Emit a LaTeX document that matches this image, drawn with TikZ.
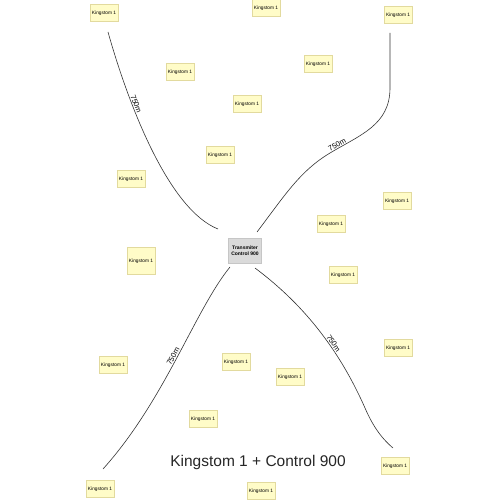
\documentclass[tikz,border=0pt]{standalone}
\usepackage{fontspec}
\setmainfont{Liberation Sans}
\definecolor{notefill}{HTML}{FFFCC8}
\definecolor{notedraw}{HTML}{E2DA9E}
\definecolor{ctrlfill}{HTML}{DADADA}
\definecolor{ctrldraw}{HTML}{C6C6C6}
\definecolor{cablegray}{HTML}{333333}
\begin{document}
\begin{tikzpicture}[x=1pt, y=-1pt,
    kbox/.style={draw=notedraw, fill=notefill, line width=0.4pt, minimum width=28pt, minimum height=17pt, inner sep=0pt, font=\fontsize{4.8}{5.5}\selectfont},
    ctrlbox/.style={draw=ctrldraw, fill=ctrlfill, line width=0.4pt, minimum width=33pt, minimum height=25pt, inner sep=0pt, align=center, font=\fontsize{5}{6}\selectfont\bfseries},
    cable/.style={draw=cablegray, line width=0.6pt},
    dist/.style={font=\fontsize{7.5}{8}\selectfont, sloped, above, inner sep=1pt}]
    \useasboundingbox (0,0) rectangle (500,500);

    % transmitter in the middle
    \node[ctrlbox] (ctrl) at (245,251) {Transmiter\\Control 900};

    % receivers
    \node[kbox] (k1) at (104,13) {Kingstom 1};
    \node[kbox] (k2) at (266,8) {Kingstom 1};
    \node[kbox] (k3) at (398,15) {Kingstom 1};
    \node[kbox] (k4) at (180,72) {Kingstom 1};
    \node[kbox] (k5) at (318,64) {Kingstom 1};
    \node[kbox] (k6) at (247,104) {Kingstom 1};
    \node[kbox] (k7) at (220,155) {Kingstom 1};
    \node[kbox] (k8) at (131,179) {Kingstom 1};
    \node[kbox] (k9) at (397,201) {Kingstom 1};
    \node[kbox] (k10) at (331,224) {Kingstom 1};
    \node[kbox, minimum height=27pt] (k11) at (141,261) {Kingstom 1};
    \node[kbox] (k12) at (343,275) {Kingstom 1};
    \node[kbox] (k13) at (398,348) {Kingstom 1};
    \node[kbox] (k14) at (113,365) {Kingstom 1};
    \node[kbox] (k15) at (236,362) {Kingstom 1};
    \node[kbox] (k16) at (290,377) {Kingstom 1};
    \node[kbox] (k17) at (203,419) {Kingstom 1};
    \node[kbox] (k18) at (100,489) {Kingstom 1};
    \node[kbox] (k19) at (261,491) {Kingstom 1};
    \node[kbox] (k20) at (395,466) {Kingstom 1};

    \node[text=black!85] (title) at (258,462) {\fontsize{15.5}{18}\selectfont Kingstom 1 + Control 900};

    % cable ends
    \coordinate (tlA) at (218,229);
    \coordinate (tlB) at (108,32);
    \coordinate (trA) at (257,232);
    \coordinate (trM) at (330,153);
    \coordinate (trK) at (390,88);
    \coordinate (trB) at (390,33);
    \coordinate (blA) at (230,267);
    \coordinate (blB) at (103,469);
    \coordinate (brA) at (255,268);
    \coordinate (brM) at (365,408);
    \coordinate (brB) at (393,448);

    % cables, 750m each
    \draw[cable] (tlB) .. controls (130,110) and (170,210) .. (tlA) node[dist, pos=0.3] {750m};
    \draw[cable] (trB) -- (trK) .. controls (390,125) and (360,135) .. (trM) node[dist, pos=0.9] {750m}
        .. controls (300,171) and (285,195) .. (trA);
    \draw[cable] (blA) .. controls (195,310) and (165,400) .. (blB) node[dist, pos=0.5] {750m};
    \draw[cable] (brA) .. controls (295,298) and (335,340) .. (brM) node[dist, pos=0.65] {750m}
        .. controls (372,424) and (380,437) .. (brB);
\end{tikzpicture}
\end{document}
